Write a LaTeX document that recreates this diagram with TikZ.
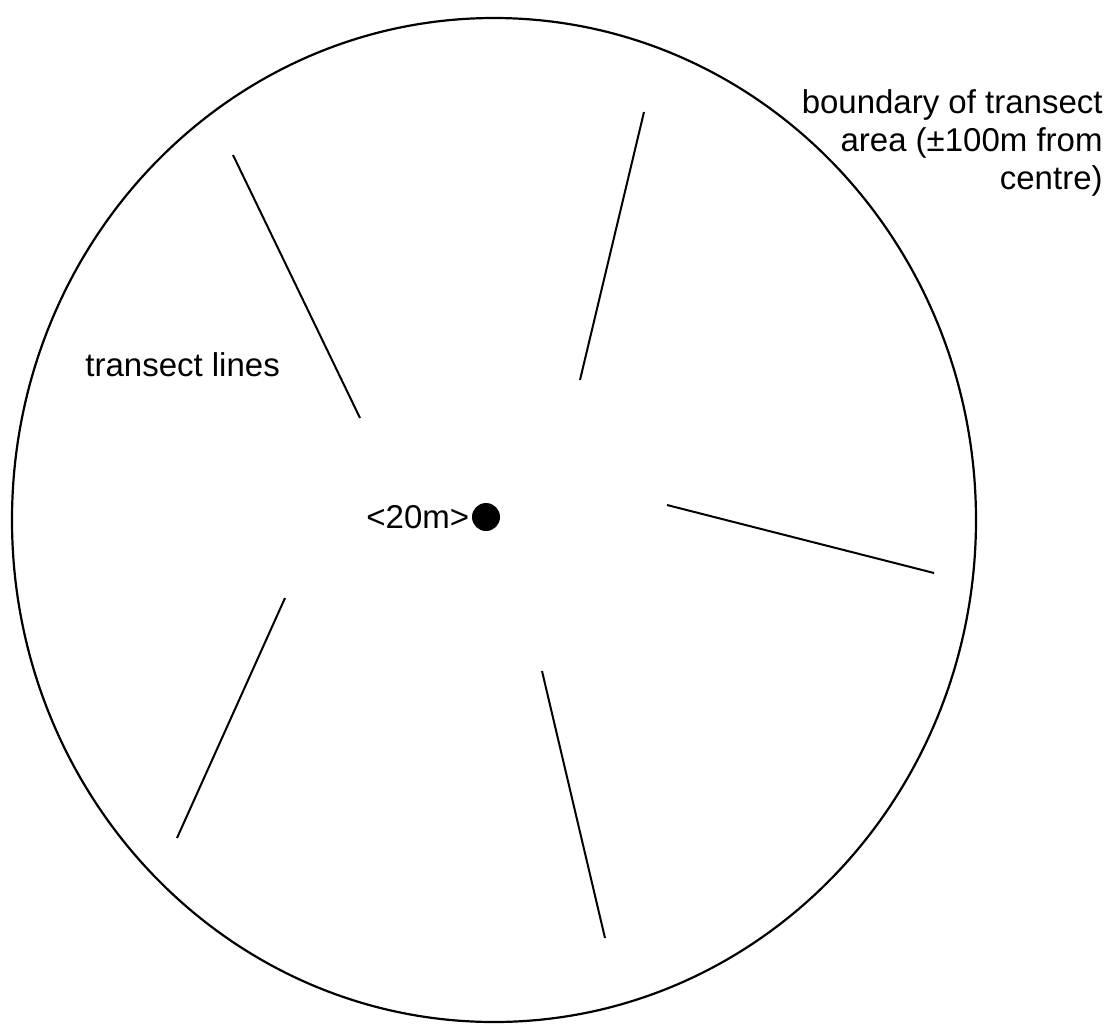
\documentclass[tikz,border=0pt]{standalone}
\usepackage{fontspec}
\setmainfont{Liberation Sans}
\usetikzlibrary{positioning}

\begin{document}
\begin{tikzpicture}[x=0.5pt, y=-0.5pt, every node/.style={font=\fontsize{16.5}{19}\selectfont}]
    \tikzset{transect/.style={line width=1pt},
             centremark/.style={circle,fill=black,inner sep=0pt,minimum size=14pt}}
    \useasboundingbox (0,0) rectangle (1116,1024);
    % boundary of the area
    \draw[line width=1.1pt] (494,520) ellipse [x radius=482, y radius=502];
    % centre point
    \node[centremark] (ctr) at (486,517) {};
    \node[left=0pt of ctr,inner sep=1pt] (dist) {<20m>};
    % the five transects
    \foreach \xa/\ya/\xb/\yb in {233/155/360/418, 644/112/580/380, 667/505/934/573,
                                 285/598/177/838, 542/671/605/938}
      \draw[transect] (\xa,\ya) -- (\xb,\yb);
    \node[align=right,anchor=north east,inner sep=0pt] (bnd) at (1103,89)
      {boundary of transect\\area (±100m from\\centre)};
    \node[anchor=west,inner sep=0pt] (tl) at (85,365) {transect lines};
\end{tikzpicture}
\end{document}
